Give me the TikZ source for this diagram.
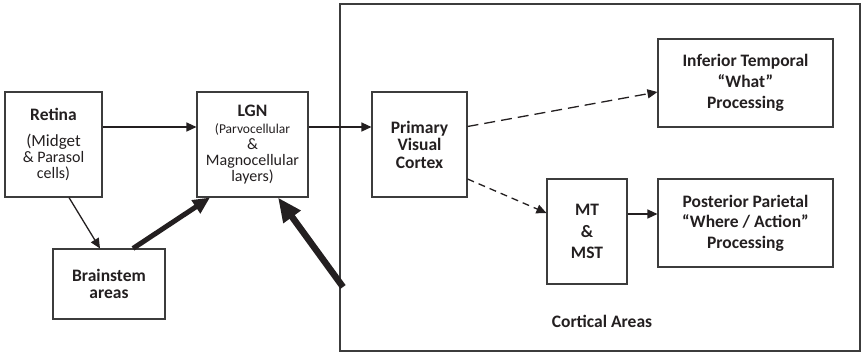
\documentclass[tikz,border=0pt]{standalone}
\usepackage{fontspec}
\setmainfont{Carlito}
\usetikzlibrary{arrows.meta}
\definecolor{ink}{RGB}{35,31,32}
\definecolor{edge}{RGB}{60,60,60}
\tikzset{
  box/.style={draw=edge, line width=1.1pt, inner sep=0pt, align=center, text=ink,
    font=\fontsize{16}{16}\selectfont},
  conn/.style={draw=ink, line width=1.3pt, -{Triangle[length=10pt,width=9pt]}},
  thick conn/.style={draw=ink, line width=5pt, -{Triangle[length=17pt,width=15pt]}},
  heavy conn/.style={draw=ink, line width=6.5pt, -{Triangle[length=24pt,width=20pt]}},
  longdash/.style={dash pattern=on 11pt off 6pt},
  shortdash/.style={dash pattern=on 7pt off 5pt},
}
\begin{document}
\begin{tikzpicture}[x=1pt,y=-1pt]
\useasboundingbox (0,0) rectangle (864,354);
\node[draw=edge, line width=1.1pt, minimum width=520pt, minimum height=347pt, inner sep=0pt] (cortex) at (600,177.5) {};
\node[box, minimum width=97pt, minimum height=105pt] (retina) at (53.5,144.5)
  {\fontsize{17.5}{16}\selectfont\textbf{Retina}\\[10pt]\fontsize{17}{16.5}\selectfont (Midget\\\& Parasol\\cells)};
\node[box, minimum width=111pt, minimum height=105pt] (lgn) at (252.5,144.5)
  {\fontsize{17.5}{16}\selectfont\textbf{LGN}\\[1pt] \fontsize{13.5}{15}\selectfont (Parvocellular\\\&\\Magnocellular\\layers)};
\node[box, minimum width=112pt, minimum height=70pt, font=\fontsize{17.5}{17}\selectfont\bfseries] (brain) at (109,284)
  {Brainstem\\areas};
\node[box, minimum width=95pt, minimum height=105pt, font=\fontsize{17.5}{17.5}\selectfont\bfseries] (pvc) at (419.5,144.5)
  {Primary\\Visual\\Cortex};
\node[box, minimum width=80pt, minimum height=105pt, font=\fontsize{17.5}{21.5}\selectfont\bfseries] (mt) at (587,231.5)
  {MT\\\&\\MST};
\node[box, minimum width=175pt, minimum height=88pt, font=\fontsize{17.5}{21}\selectfont\bfseries] (it) at (745.5,83)
  {Inferior Temporal\\“What”\\Processing};
\node[box, minimum width=175pt, minimum height=88pt, font=\fontsize{17.5}{20.5}\selectfont\bfseries] (pp) at (745.5,223)
  {Posterior Parietal\\“Where / Action”\\Processing};
\node[text=ink, font=\fontsize{17.5}{17}\selectfont\bfseries] (label) at (602,321) {Cortical Areas};
\coordinate (src) at (343,287);

\draw[conn] ([yshift=17.5pt]retina.east) -- ([yshift=17.5pt]lgn.west);
\draw[conn] ([yshift=17.5pt]lgn.east) -- ([yshift=17.5pt]pvc.west);
\draw[conn] ([xshift=15.5pt]retina.south) -- ([xshift=-9pt]brain.north);
\draw[thick conn] ([xshift=24pt]brain.north) -- ([xshift=-42.5pt]lgn.south);
\draw[heavy conn] (src) -- ([xshift=25.5pt]lgn.south);
\draw[conn, longdash] ([yshift=18pt]pvc.east) -- ([yshift=-9pt]it.west);
\draw[conn, shortdash] ([yshift=-34.5pt]pvc.east) -- ([yshift=18.5pt]mt.west);
\draw[conn] ([yshift=17.5pt]mt.east) -- ([yshift=17.5pt]mt.east -| pp.west);
\end{tikzpicture}
\end{document}
